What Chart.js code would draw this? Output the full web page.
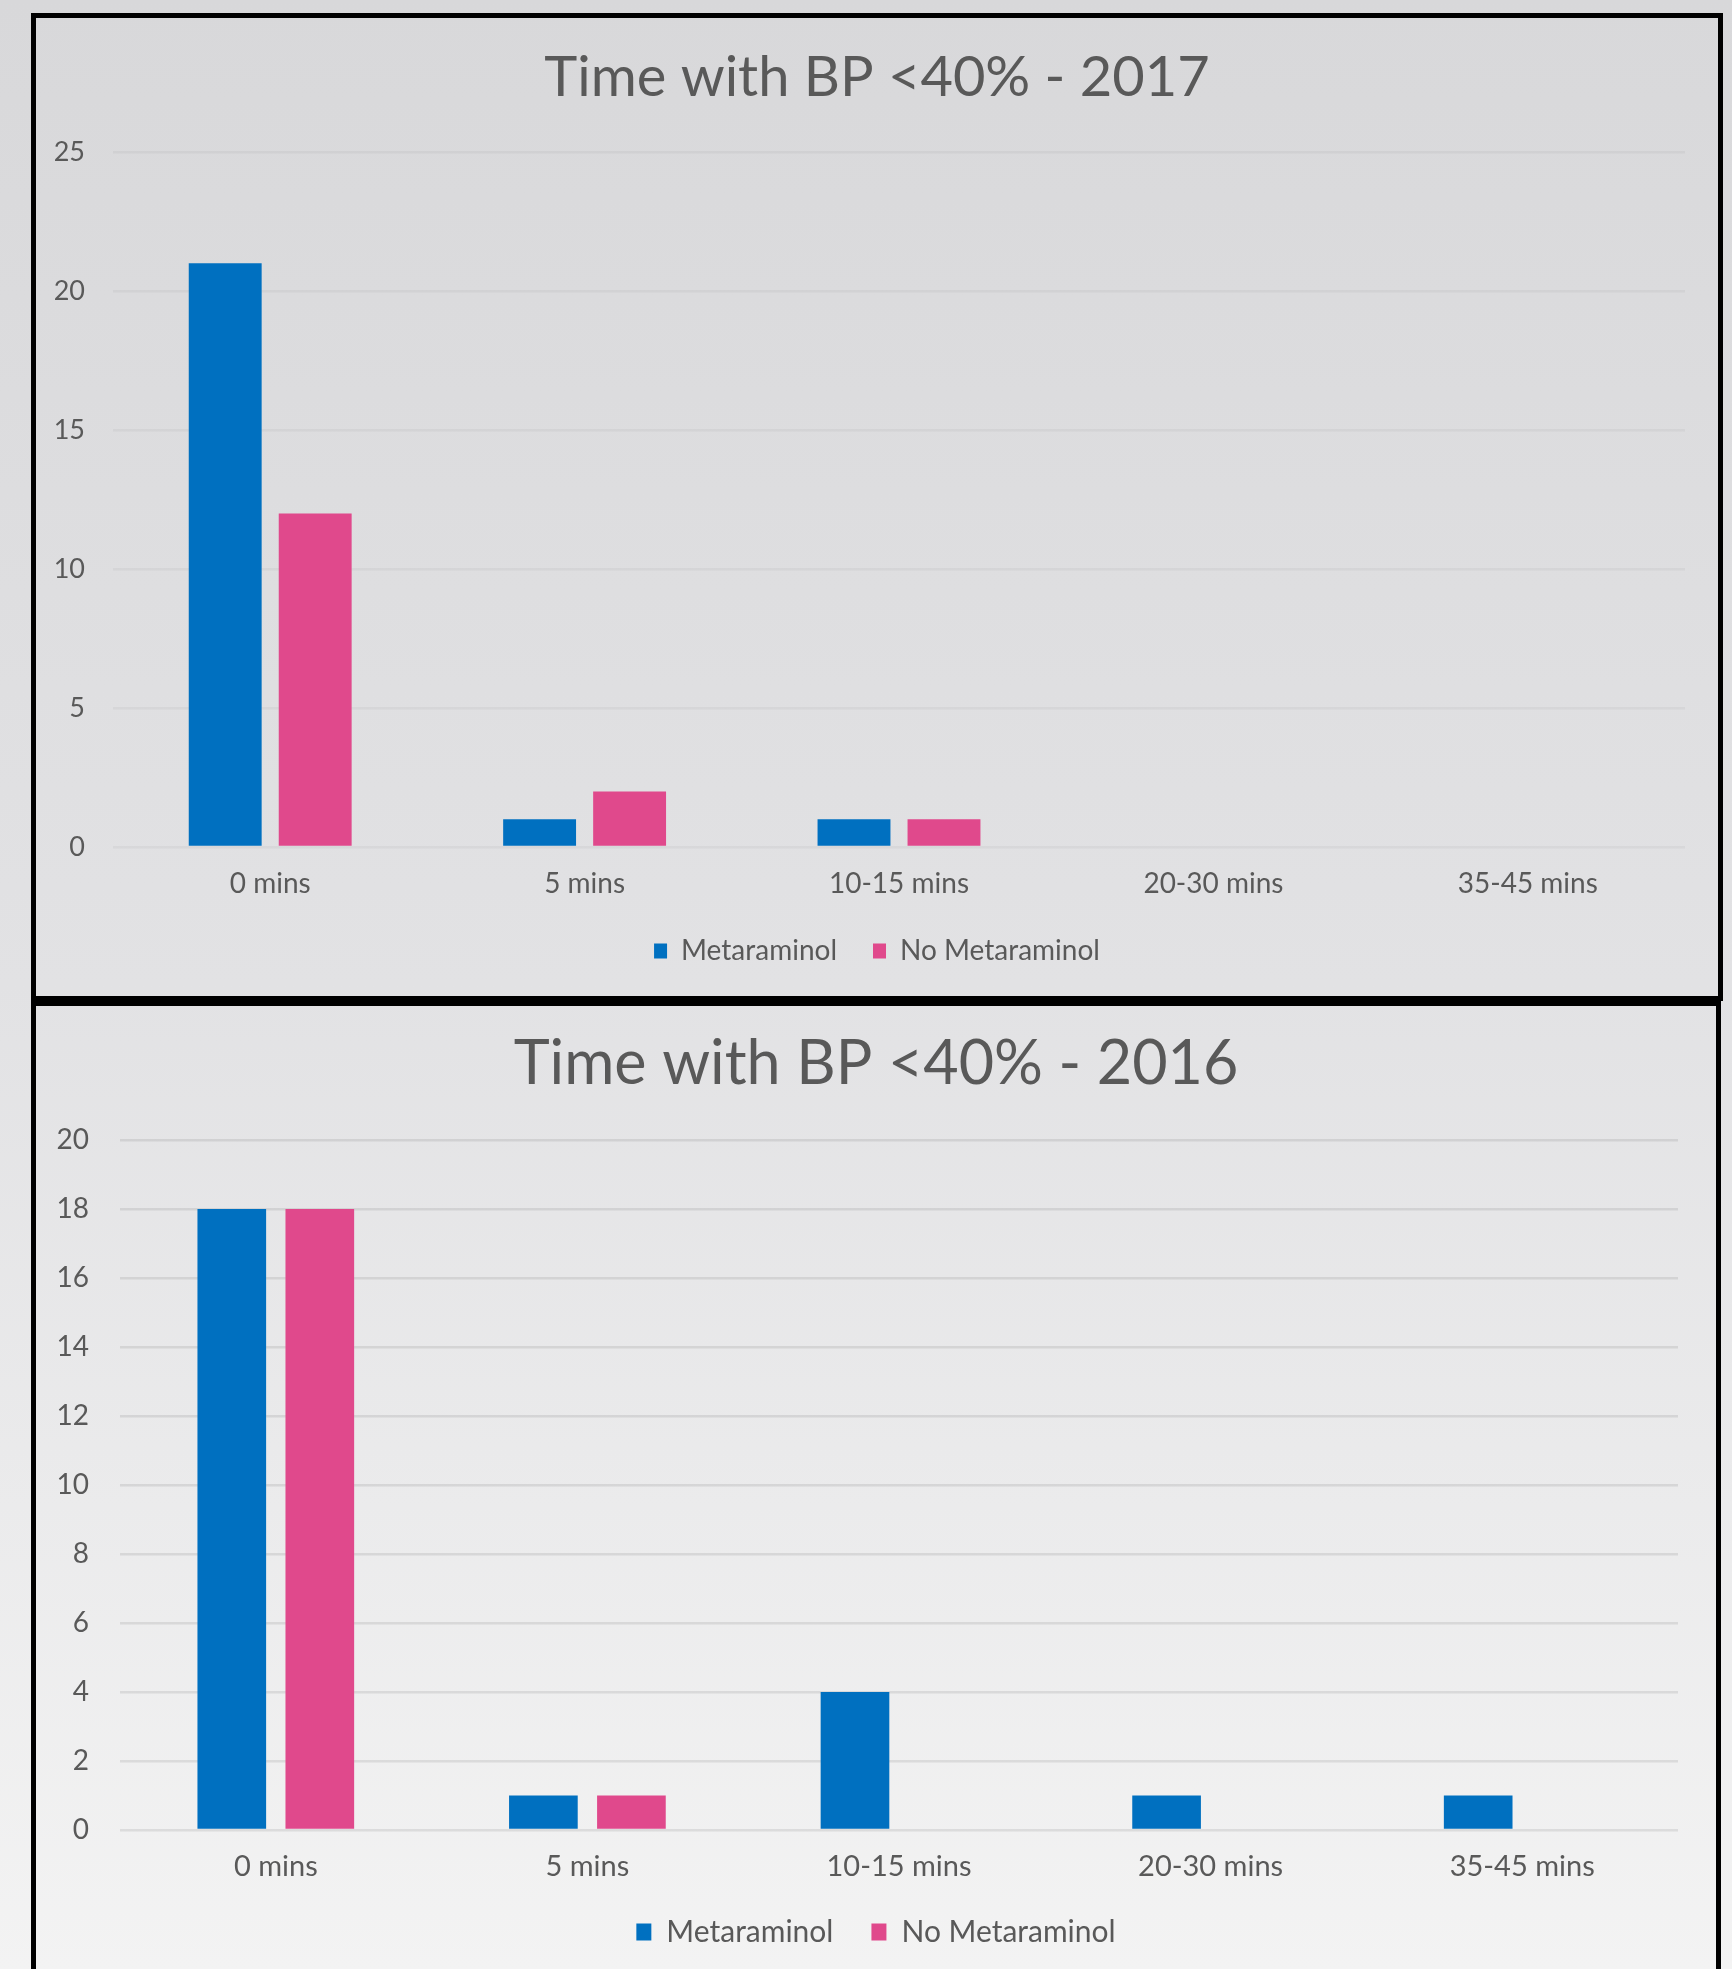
<!DOCTYPE html>
<html>
<head>
<meta charset="utf-8">
<title>Time with BP &lt;40%</title>
<script src="https://cdn.jsdelivr.net/npm/chart.js@4.4.1/dist/chart.umd.min.js"></script>
<style>
  html, body { margin: 0; padding: 0; }
  body {
    width: 1732px; height: 1969px; overflow: hidden; position: relative;
    background: linear-gradient(to bottom, #d8d8da 0%, #e2e2e4 50%, #f3f3f3 100%);
    font-family: Lato, "Open Sans", sans-serif;
  }
  .panel { position: absolute; box-sizing: border-box; border: 5px solid #000; }
  #p2017 { left: 31px; top: 13px; width: 1692px; height: 988px; }
  #p2016 { left: 31px; top: 1001px; width: 1690px; height: 1000px; }
  canvas { display: block; }
</style>
</head>
<body>
<div class="panel" id="p2017"><canvas id="c2017" width="1682" height="978"></canvas></div>
<div class="panel" id="p2016"><canvas id="c2016" width="1680" height="963"></canvas></div>
<script>
// Categories and counts for each year
const categories = ['0 mins', '5 mins', '10-15 mins', '20-30 mins', '35-45 mins'];
const seriesNames = ['Metaraminol', 'No Metaraminol'];

const metaraminol2017 = [21, 1, 1, 0, 0];
const noMetaraminol2017 = [12, 2, 1, 0, 0];
const yTicks2017 = [0, 5, 10, 15, 20, 25];

const metaraminol2016 = [18, 1, 4, 1, 1];
const noMetaraminol2016 = [18, 1, 0, 0, 0];
const yTicks2016 = [0, 2, 4, 6, 8, 10, 12, 14, 16, 18, 20];

const seriesColors = ['#0070C0', '#E0498C'];
const textColor = '#595959';
const fontFamily = 'Lato, "Open Sans", sans-serif';

function makeChart(canvasId, title, seriesA, seriesB, ticks, s) {
  const ctx = document.getElementById(canvasId).getContext('2d');
  return new Chart(ctx, {
    type: 'bar',
    data: {
      labels: categories,
      datasets: [
        { label: seriesNames[0], data: seriesA, backgroundColor: seriesColors[0], borderWidth: 0,
          categoryPercentage: s.cp, barPercentage: s.bp },
        { label: seriesNames[1], data: seriesB, backgroundColor: seriesColors[1], borderWidth: 0,
          categoryPercentage: s.cp, barPercentage: s.bp }
      ]
    },
    options: {
      responsive: false,
      animation: false,
      devicePixelRatio: 1,
      layout: { padding: { left: 0, right: 0, top: 0, bottom: s.padBottom } },
      plugins: {
        title: {
          display: true, text: title, color: textColor,
          font: { family: fontFamily, size: s.titleSize, weight: 'normal' },
          padding: { top: s.titlePadTop, bottom: s.titlePadBottom }
        },
        legend: {
          display: true, position: 'bottom',
          labels: {
            color: textColor, boxWidth: s.boxW, boxHeight: s.boxH, padding: s.legendPad,
            font: { family: fontFamily, size: s.legendSize }
          }
        },
        tooltip: { enabled: false }
      },
      scales: {
        x: {
          grid: { display: false, drawTicks: false },
          border: { display: false },
          ticks: { color: textColor, padding: s.xPad,
                   font: { family: fontFamily, size: s.xSize, lineHeight: 1 } },
          afterFit: (scale) => { scale.height = s.xHeight; }
        },
        y: {
          min: ticks[0], max: ticks[ticks.length - 1],
          grid: { color: s.grid, lineWidth: 2.5, drawTicks: false },
          border: { display: false },
          ticks: { stepSize: ticks[1] - ticks[0], color: textColor, padding: s.yPad,
                   font: { family: fontFamily, size: s.ySize } },
          afterFit: (scale) => { scale.width = s.yWidth; }
        },
        // empty right-hand margin so the title and legend stay centred on the panel
        yRight: {
          position: 'right',
          grid: { display: false, drawTicks: false },
          border: { display: false },
          ticks: { display: false },
          afterFit: (scale) => { scale.width = s.rightWidth; }
        }
      }
    }
  });
}

makeChart('c2017', 'Time with BP <40% - 2017', metaraminol2017, noMetaraminol2017, yTicks2017, {
  titleSize: 56, titlePadTop: 26, titlePadBottom: 40.8,
  ySize: 27, xSize: 28, xPad: 22.5, xHeight: 54,
  legendSize: 28, boxW: 13, boxH: 15, legendPad: 36,
  yWidth: 77, yPad: 28, rightWidth: 33, padBottom: 21,
  cp: 0.5725, bp: 0.81, grid: 'rgba(0,0,0,0.04)'
});

makeChart('c2016', 'Time with BP <40% - 2016', metaraminol2016, noMetaraminol2016, yTicks2016, {
  titleSize: 61, titlePadTop: 21.4, titlePadBottom: 39.4,
  ySize: 28, xSize: 29, xPad: 22.5, xHeight: 49,
  legendSize: 30, boxW: 15, boxH: 17, legendPad: 38,
  yWidth: 84, yPad: 31, rightWidth: 38, padBottom: 12,
  cp: 0.565, bp: 0.78, grid: 'rgba(0,0,0,0.085)'
});
</script>
</body>
</html>
